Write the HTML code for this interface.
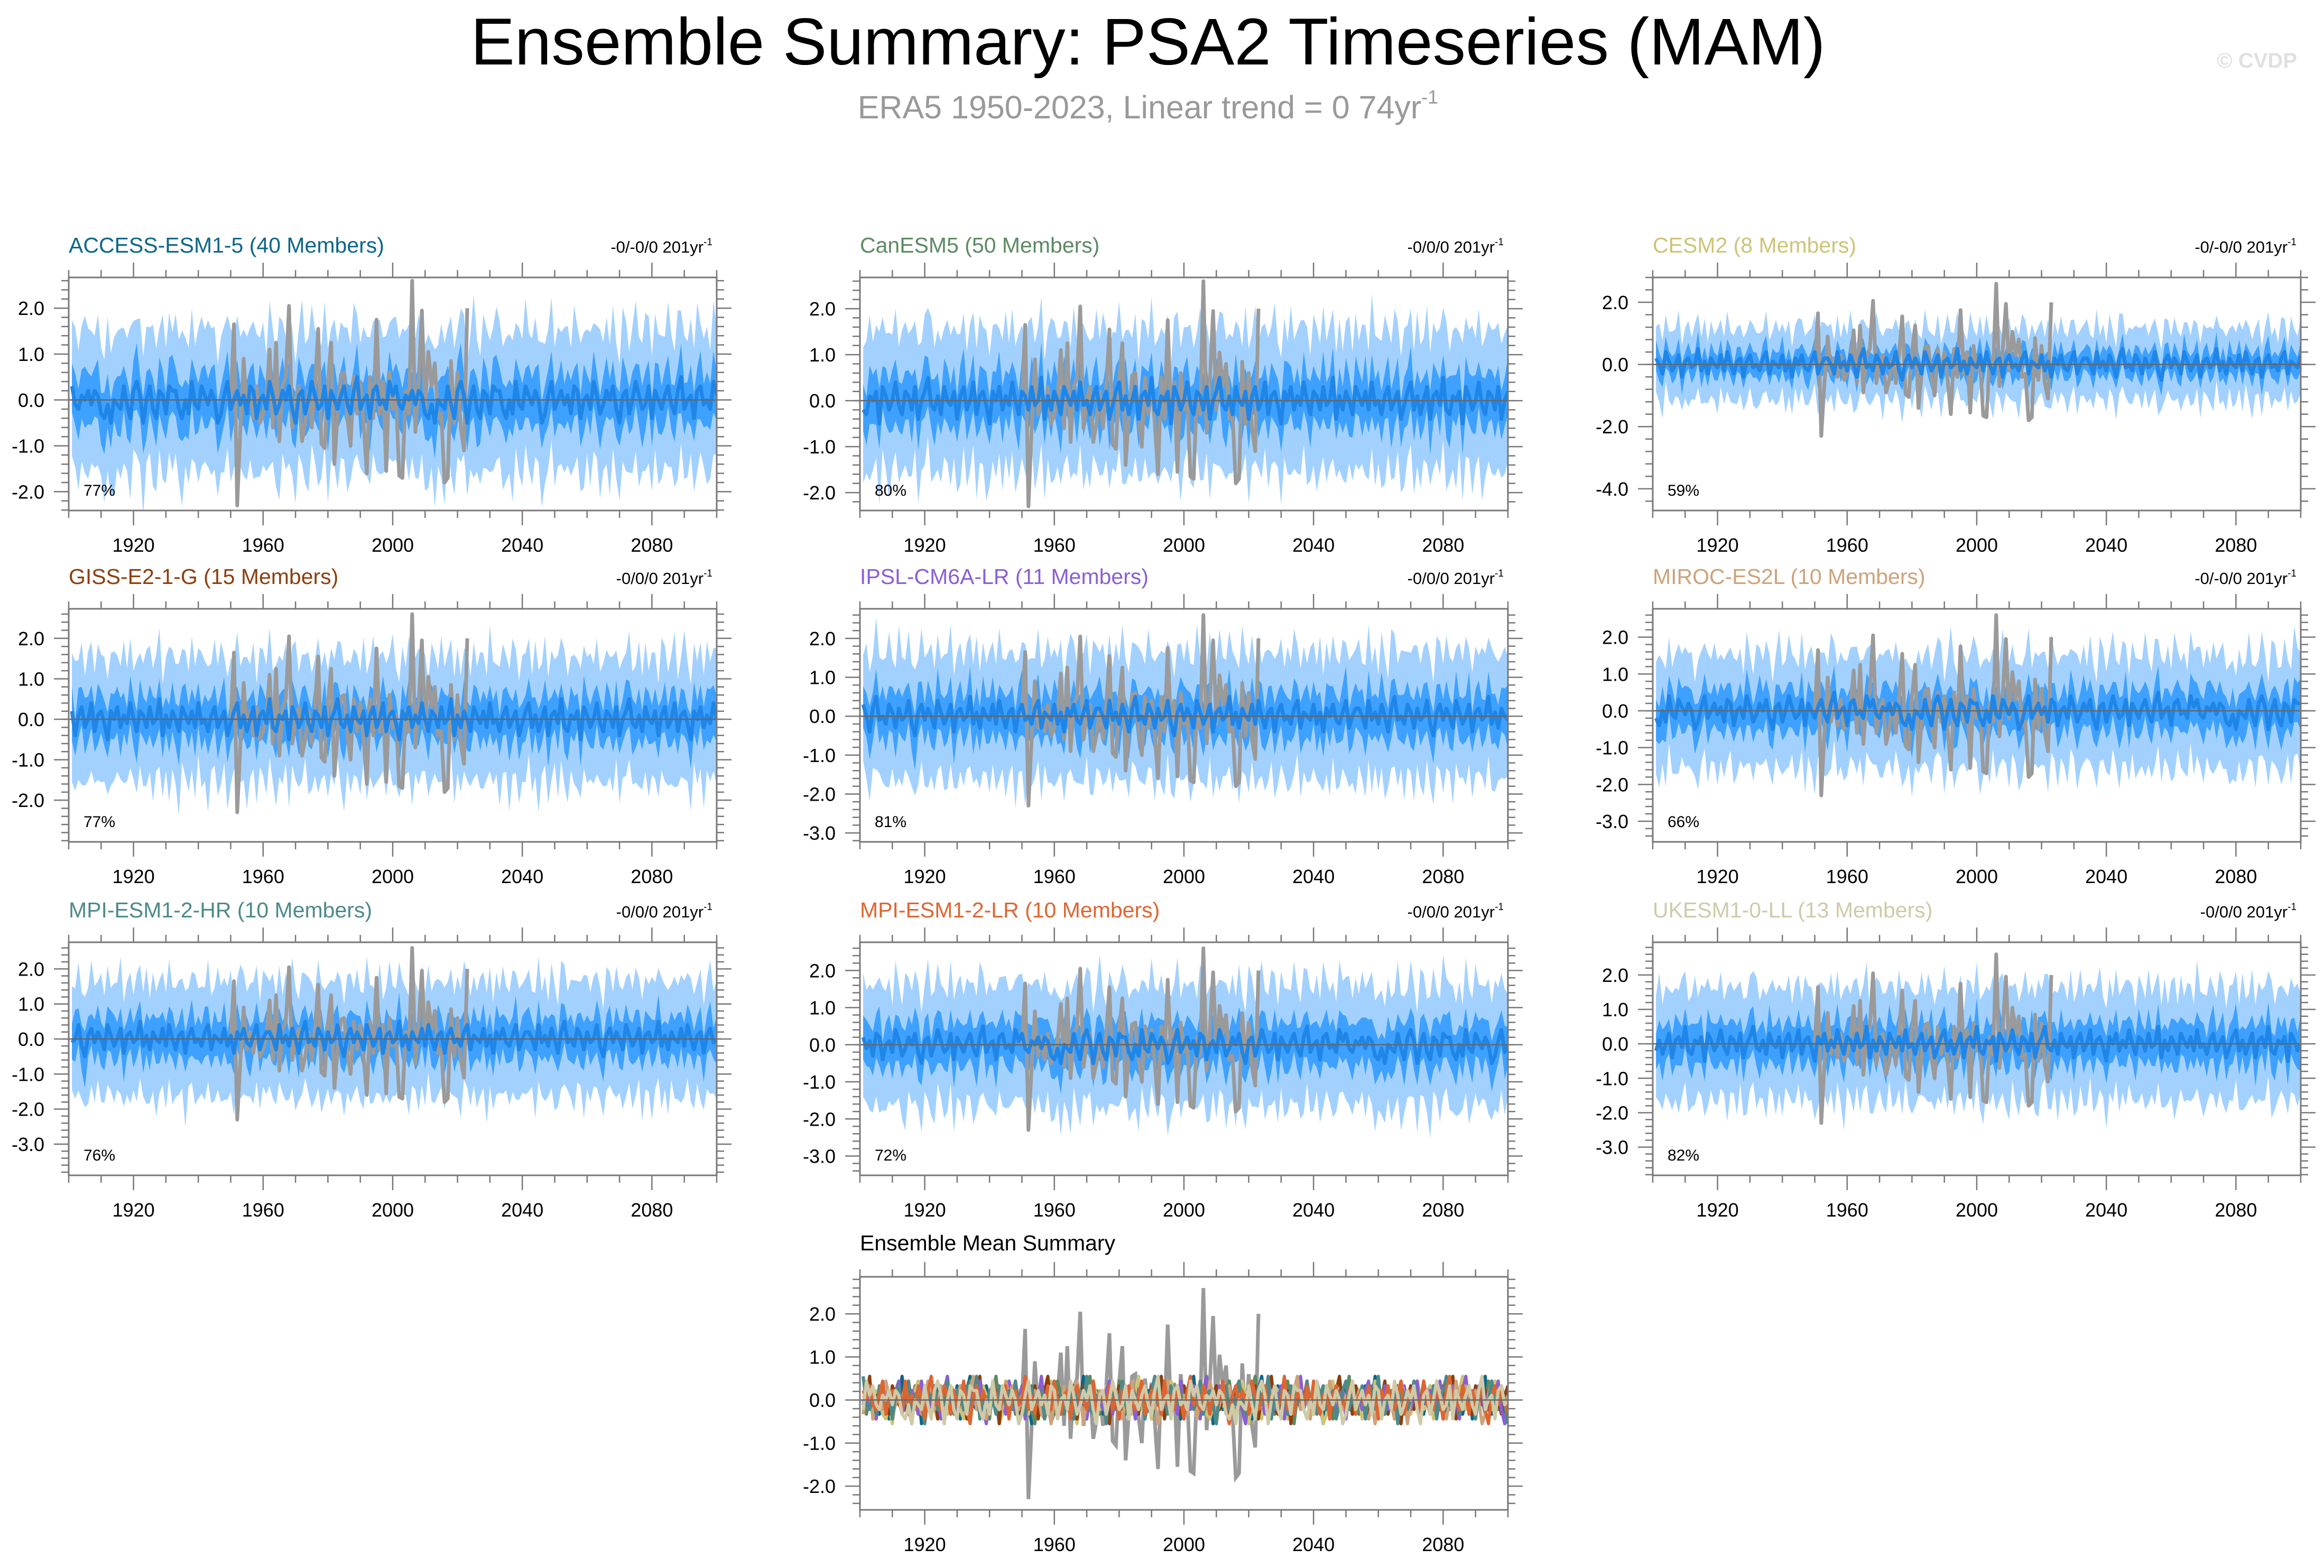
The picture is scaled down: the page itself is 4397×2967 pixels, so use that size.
<!DOCTYPE html>
<html><head><meta charset="utf-8">
<style>
html,body{margin:0;padding:0;background:#fff;}
svg{display:block;font-family:"Liberation Sans",sans-serif;}
</style></head>
<body>
<svg id="chart" xmlns="http://www.w3.org/2000/svg" width="4397" height="2967" viewBox="0 0 4397 2967">
<rect width="4397" height="2967" fill="#fff"/>
<text x="2172" y="122" font-size="125" text-anchor="middle" fill="#000">Ensemble Summary: PSA2 Timeseries (MAM)</text>
<text x="2172" y="224" font-size="61" text-anchor="middle" fill="#999">ERA5 1950-2023, Linear trend = 0 74yr<tspan font-size="36" dy="-28">-1</tspan></text>
<text x="4346" y="128" font-size="40" font-weight="bold" text-anchor="end" fill="#e0e0e0">© CVDP</text>
<g id="panels"></g>
</svg>
<script>
// ---- data ----
const modelNames=["ACCESS-ESM1-5 (40 Members)","CanESM5 (50 Members)","CESM2 (8 Members)","GISS-E2-1-G (15 Members)","IPSL-CM6A-LR (11 Members)","MIROC-ES2L (10 Members)","MPI-ESM1-2-HR (10 Members)","MPI-ESM1-2-LR (10 Members)","UKESM1-0-LL (13 Members)"];
const modelColors=["#0b6688","#5b8a62","#cdc478","#8c3f0e","#8a5ed6","#cda27a","#4c8a8a","#dd6532","#cfcaa8"];
const trendLabels=["-0/-0/0 201yr","-0/0/0 201yr","-0/-0/0 201yr","-0/0/0 201yr","-0/0/0 201yr","-0/-0/0 201yr","-0/0/0 201yr","-0/0/0 201yr","-0/0/0 201yr"];
const percentLabels=["77%","80%","59%","77%","81%","66%","76%","72%","82%"];
const yMins=[-2.41,-2.39,-4.7,-3.03,-3.23,-3.56,-3.89,-3.52,-3.82];
const yMaxs=[2.67,2.68,2.8,2.73,2.76,2.77,2.76,2.76,2.95];
const yTickLists=[[-2,-1,0,1,2],[-2,-1,0,1,2],[-4,-2,0,2],[-2,-1,0,1,2],[-3,-2,-1,0,1,2],[-3,-2,-1,0,1,2],[-3,-2,-1,0,1,2],[-3,-2,-1,0,1,2],[-3,-2,-1,0,1,2]];
const bandScale=[0.8,0.8,0.6,0.8,0.85,0.8,0.85,0.85,0.85];
const meanPick=[0,1,2,1,2,0,2,0,1];
const shiftPick=[0,13,27,41,7,33,19,51,3];
const xTickYears=[1920,1960,2000,2040,2080];
const summaryYMin=-2.55, summaryYMax=2.86;
const summaryTicks=[-2,-1,0,1,2];
const obsStart=1950;
const obs=[0.0,1.65,-2.3,-0.6,0.9,-0.3,0.2,-0.4,0.3,-0.5,-0.3,0.1,1.1,-0.6,1.25,-0.9,0.3,0.5,2.05,-0.6,0.0,0.3,-0.9,-0.5,0.2,-0.6,0.3,1.55,-0.95,-1.05,0.4,1.25,-1.4,-0.3,0.55,0.6,-0.4,-1.0,0.5,-0.3,0.4,-0.5,-1.6,0.5,-0.4,1.75,-0.3,0.4,-1.55,0.6,-0.2,0.1,-1.65,-1.7,0.2,-0.3,2.6,-0.7,0.4,1.95,-0.2,1.05,0.3,0.8,-0.4,-0.3,-1.8,-1.7,0.85,-0.5,0.6,-0.6,-1.1,2.0];
const meanA=[0.3,-0.1,-0.2,0.1,0.0,0.2,-0.1,0.2,0.1,-0.3,-0.4,-0.1,-0.5,0.0,-0.1,-0.2,0.3,-0.1,-0.4,0.2,0.4,0.1,-0.5,0.0,0.3,-0.2,-0.4,0.2,0.1,-0.3,0.3,0.2,0.2,-0.2,-0.4,0.0,-0.3,0.4,-0.1,-0.2,0.3,0.1,-0.1,0.2,0.0,-0.5,-0.3,0.1,0.4,-0.2,0.0,0.2,-0.1,0.1,-0.3,0.3,0.2,-0.4,0.0,0.1,-0.2,0.4,0.1,-0.3,-0.1,0.2,0.0,0.3,-0.2,-0.5,0.1,0.2,-0.3,0.0,0.4,0.1,-0.2,-0.1,0.3,-0.4,0.2,0.0,-0.2,0.1,0.3,-0.1,-0.3,0.2,0.5,-0.2,0.0,0.1,-0.4,0.2,0.3,-0.1,0.0,-0.2,0.4,0.1];
const meanB=[-0.1,0.2,0.4,-0.2,0.1,-0.3,0.0,0.3,-0.4,0.1,0.2,-0.1,0.5,-0.2,-0.3,0.1,0.0,0.2,-0.5,0.3,0.1,-0.2,0.0,0.4,-0.1,-0.3,0.2,0.1,-0.2,0.3,-0.4,0.0,0.2,0.5,-0.1,-0.2,0.1,-0.3,0.3,0.0,-0.1,0.2,-0.4,0.1,0.3,-0.2,0.0,0.4,-0.3,0.1,0.2,-0.1,-0.5,0.2,0.0,0.3,-0.2,0.1,-0.1,0.4,0.0,-0.3,0.2,0.1,-0.2,0.3,-0.1,0.0,0.5,-0.4,0.1,-0.2,0.2,0.0,-0.3,0.3,0.1,-0.1,0.2,-0.2,0.4,-0.1,0.0,-0.3,0.1,0.3,-0.2,0.0,0.2,-0.4];
const meanC=[0.2,0.0,-0.3,0.4,-0.1,0.1,-0.2,0.3,0.0,-0.4,0.2,0.5,-0.1,0.0,-0.2,0.3,0.1,-0.3,0.2,-0.1,0.0,0.4,-0.2,-0.5,0.1,0.3,-0.1,0.2,0.0,-0.3,0.4,0.1,-0.2,0.0,0.3,-0.4,0.1,0.2,-0.1,0.0,0.5,-0.2,0.1,-0.3,0.2,0.0,-0.1,0.3,-0.2,0.4,0.0,-0.3,0.1,0.2,-0.4,0.1,0.3,-0.1,0.0,-0.2,0.2,0.4,-0.3,0.1,0.0,-0.1,0.3,-0.2,0.1,-0.4,0.2,0.0,0.3,-0.1,-0.2,0.1,0.4,-0.3,0.0,0.2];
const innerHi=[0.9,1.2,0.8,1.0,1.3,0.7,1.1,0.9,1.4,0.8,1.0,1.2,0.9,0.7,1.1,1.3,0.8,1.0,0.9,1.2,1.5,0.8,1.0,1.1,0.7,1.2,0.9,1.3,1.0,0.8,1.1,1.4,0.9,1.0,1.2,0.8,1.1,0.9,1.3,1.0,0.7,1.2,1.0,0.9,1.4,0.8,1.1,1.0,1.2,0.9];
const innerLo=[1.0,0.8,1.2,0.9,1.1,1.3,0.8,1.0,0.9,1.2,1.4,0.9,1.0,0.8,1.2,1.1,0.9,1.3,1.0,0.8,1.1,0.9,1.2,1.5,1.0,0.8,1.1,0.9,1.3,1.0,1.2,0.8,1.0,1.1,0.9,1.4,1.0,0.8,1.2,0.9,1.1,1.3,0.9,1.0,0.8,1.2,1.0,1.1,0.9,1.3,0.95];
const outerHi=[1.8,2.1,1.6,1.9,2.3,1.7,2.0,1.5,2.2,1.8,1.6,2.4,1.9,1.7,2.0,2.2,1.6,1.8,2.5,1.9,1.7,2.1,1.8,2.0,1.6,2.3,1.9,1.7,2.2,1.8,2.0,1.6,2.1,1.9,2.4,1.7,1.8,2.0,1.6,2.2,1.9,1.8,2.3,1.7,2.0,1.6,2.1,1.9,1.8,2.2,1.75,2.05,1.85];
const outerLo=[1.9,1.7,2.2,1.8,2.0,2.4,1.6,2.1,1.9,1.7,2.3,1.8,2.0,2.6,1.7,1.9,2.1,1.8,2.2,1.6,2.0,1.9,2.5,1.7,1.8,2.1,2.0,1.6,2.3,1.9,1.8,2.2,1.7,2.0,2.4,1.8,1.9,2.1,1.6,2.0,2.2,1.8,1.7,2.3,1.9,2.0,1.6,2.1,1.8,2.0,1.85];
const meanSets=[meanA,meanB,meanC];
const summaryAmp=1.1;
// ---- layout ----
const NS="http://www.w3.org/2000/svg";
const colL=[130,1627,3127], rowT=[525,1152,1783], PW=1226, PH=441;
const X0=1900, X1=2100;
const root=document.getElementById('panels');
function mk(tag,parent){const e=document.createElementNS(NS,tag);parent.appendChild(e);return e;}
function at(arr,i){return arr[((i%arr.length)+arr.length)%arr.length];}

function drawAxes(g,L,T,ymin,ymax,ticks){
  const sx=y=>L+(y-X0)/(X1-X0)*PW, sy=v=>T+(ymax-v)/(ymax-ymin)*PH, B=T+PH;
  const z=mk('line',g);
  
  
  z.setAttribute('x1',L-12);z.setAttribute('x2',L+PW+12);z.setAttribute('y1',sy(0));z.setAttribute('y2',sy(0));
  z.setAttribute('stroke','#666');z.setAttribute('stroke-width','2.5');
  const fr=mk('rect',g);
  
  
  fr.setAttribute('x',L);fr.setAttribute('y',T);fr.setAttribute('width',PW);fr.setAttribute('height',PH);
  fr.setAttribute('fill','none');fr.setAttribute('stroke','#777');fr.setAttribute('stroke-width','3');
  let d='';
  for(let yr=1900;yr<=2100;yr+=10){
    const len=xTickYears.includes(yr)?28:14, x=sx(yr);
    d+=`M${x} ${T}v${-len}M${x} ${B}v${len}`;
  }
  const step=ticks[1]-ticks[0], minor=step/5;
  for(let v=Math.ceil(ymin/minor)*minor; v<=ymax+1e-6; v+=minor){
    const isMaj=ticks.some(t=>Math.abs(t-v)<1e-6), len=isMaj?28:14, y=sy(v);
    d+=`M${L} ${y}h${-len}M${L+PW} ${y}h${len}`;
  }
  const tk=mk('path',g);
  
  
  tk.setAttribute('d',d);tk.setAttribute('stroke','#777');tk.setAttribute('stroke-width','2.5');tk.setAttribute('fill','none');
  ticks.forEach(v=>{
    const t=mk('text',g);
    
    
    t.setAttribute('x',L-46);t.setAttribute('y',sy(v)+13);t.setAttribute('font-size','36');t.setAttribute('text-anchor','end');
    t.textContent=v.toFixed(1);
  });
  xTickYears.forEach(yr=>{
    const t=mk('text',g);
    
    
    t.setAttribute('x',sx(yr));t.setAttribute('y',B+78);t.setAttribute('font-size','36');t.setAttribute('text-anchor','middle');
    t.textContent=yr;
  });
}
function clipFor(g,L,T,id){
  const cp=mk('clipPath',g);cp.setAttribute('id',id);
  const r=mk('rect',cp);r.setAttribute('x',L);r.setAttribute('y',T);r.setAttribute('width',PW);r.setAttribute('height',PH);
}
function linePath(vals,start,sx,sy){
  return vals.map((v,i)=>(i?'L':'M')+sx(start+i).toFixed(1)+' '+sy(v).toFixed(1)).join('');
}

for(let p=0;p<9;p++){
  const L=colL[p%3], T=rowT[Math.floor(p/3)];
  const g=mk('g',root);
  
  
  const ymin=yMins[p], ymax=yMaxs[p];
  const sx=y=>L+(y-X0)/(X1-X0)*PW, sy=v=>T+(ymax-v)/(ymax-ymin)*PH;
  clipFor(g,L,T,'clip'+p);
  const dg=mk('g',g);dg.setAttribute('clip-path',`url(#clip${p})`);
  const mset=meanSets[meanPick[p]], sh=shiftPick[p], sc=bandScale[p];
  const yrs=[],mean=[],oU=[],oL=[],iU=[],iL=[];
  for(let i=0;i<200;i++){
    const m=at(mset,i+sh);
    yrs.push(1901+i);mean.push(m);
    oU.push(m+at(outerHi,i+sh)*sc);oL.push(m-at(outerLo,i+2*sh)*sc);
    iU.push(m+at(innerHi,i+3*sh)*sc*0.7);iL.push(m-at(innerLo,i+sh)*sc*0.7);
  }
  const band=(U,Lo)=>U.map((v,i)=>(i?'L':'M')+sx(yrs[i]).toFixed(1)+' '+sy(v).toFixed(1)).join('')+
     Lo.slice().reverse().map((v,i)=>'L'+sx(yrs[199-i]).toFixed(1)+' '+sy(v).toFixed(1)).join('')+'Z';
  const ob=mk('path',dg);
  
  
  ob.setAttribute('d',band(oU,oL));ob.setAttribute('fill','#a3d1ff');
  const ib=mk('path',dg);
  
  
  ib.setAttribute('d',band(iU,iL));ib.setAttribute('fill','#3ea1ff');
  const og=mk('path',dg);
  
  
  og.setAttribute('d',linePath(obs,obsStart,sx,sy));og.setAttribute('fill','none');og.setAttribute('stroke','#9a9a9a');og.setAttribute('stroke-width','7');og.setAttribute('stroke-linejoin','round');
  const ml=mk('path',dg);
  
  
  ml.setAttribute('d',linePath(mean,1901,sx,sy));ml.setAttribute('fill','none');ml.setAttribute('stroke','#1f86e8');ml.setAttribute('stroke-width','7');ml.setAttribute('stroke-linejoin','round');
  drawAxes(g,L,T,ymin,ymax,yTickLists[p]);
  const tt=mk('text',g);
  
  
  tt.setAttribute('x',L);tt.setAttribute('y',T-47);tt.setAttribute('font-size','41');tt.setAttribute('fill',modelColors[p]);
  tt.textContent=modelNames[p];
  const tr=mk('text',g);
  
  
  tr.setAttribute('x',L+PW-8);tr.setAttribute('y',T-47);tr.setAttribute('font-size','31');tr.setAttribute('text-anchor','end');
  tr.textContent=trendLabels[p];
  const sup=mk('tspan',tr);sup.setAttribute('font-size','19');sup.setAttribute('dy','-14');sup.textContent='-1';
  const pc=mk('text',g);
  
  
  pc.setAttribute('x',L+28);pc.setAttribute('y',T+PH-28);pc.setAttribute('font-size','30');
  pc.textContent=percentLabels[p];
}

// summary panel
(function(){
  const L=1627,T=2416;
  const g=mk('g',root);
  
  
  const sx=y=>L+(y-X0)/(X1-X0)*PW, sy=v=>T+(summaryYMax-v)/(summaryYMax-summaryYMin)*PH;
  clipFor(g,L,T,'clipS');
  const dg=mk('g',g);dg.setAttribute('clip-path','url(#clipS)');
  const og=mk('path',dg);
  
  
  og.setAttribute('d',linePath(obs,obsStart,sx,sy));og.setAttribute('fill','none');og.setAttribute('stroke','#9a9a9a');og.setAttribute('stroke-width','7');
  for(let p=0;p<9;p++){
    const vals=[];
    for(let i=0;i<200;i++) vals.push(at(meanSets[(p+1)%3],i+shiftPick[p]*3+p*11)*summaryAmp);
    const ln=mk('path',dg);
    
    
    ln.setAttribute('d',linePath(vals,1901,sx,sy));ln.setAttribute('fill','none');ln.setAttribute('stroke',modelColors[p]);ln.setAttribute('stroke-width','6');ln.setAttribute('stroke-linejoin','round');
  }
  drawAxes(g,L,T,summaryYMin,summaryYMax,summaryTicks);
  const tt=mk('text',g);
  
  
  tt.setAttribute('x',L);tt.setAttribute('y',T-50);tt.setAttribute('font-size','41');tt.setAttribute('fill','#000');
  tt.textContent='Ensemble Mean Summary';
})();
</script>
</body></html>
